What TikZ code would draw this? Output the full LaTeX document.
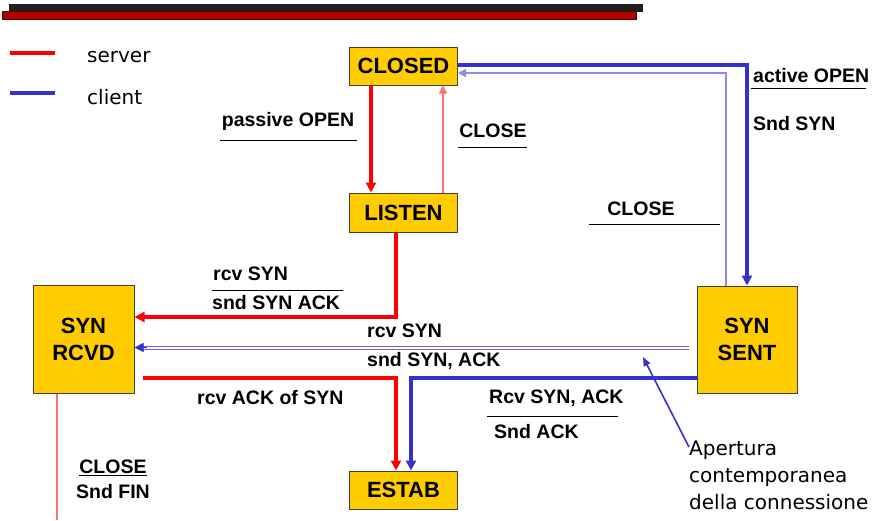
\documentclass[tikz,border=0pt]{standalone}
\usepackage{fontspec}
\setmainfont{Liberation Sans}
\newfontfamily\handfont{DejaVu Sans}
\usepackage{tikz}
\usetikzlibrary{arrows.meta, positioning}
\definecolor{stategold}{HTML}{FFCC00}
\definecolor{srvred}{HTML}{FF0000}
\definecolor{srvlight}{HTML}{FF7070}
\definecolor{cliblue}{HTML}{3333CC}
\definecolor{clilight}{HTML}{8C8CE6}
\definecolor{barred}{HTML}{B00000}

\begin{document}
\begin{tikzpicture}[
			x=1pt, y=-1pt,
			>={Triangle[length=10pt, width=10pt]},
			every node/.style={
					font=\fontsize{19.5}{24}\selectfont\bfseries,
					inner sep=1pt
				},
			state/.style={
					draw=black!75,
					fill=stategold,
					line width=1pt,
					align=center,
					inner sep=0pt,
					font=\fontsize{22}{27}\selectfont\bfseries
				},
			hand/.style={align=left, font=\fontsize{20}{27}\selectfont\handfont},
			srv/.style={->, draw=srvred, line width=4pt},
			srvthin/.style={->, draw=srvlight, line width=1.2pt, >={Triangle[length=8pt, width=8pt]}},
			cli/.style={->, draw=cliblue, line width=4pt},
			clithin/.style={->, draw=clilight, line width=1.6pt, >={Triangle[length=8pt, width=8pt]}},
			twin/.style={draw=cliblue!75, line width=0.9pt},
			rule/.style={line width=1pt}
		]
		\useasboundingbox (0,0) rectangle (879,520);

		% title bars
		\fill[black!88] (9,4) rectangle (643,12);
		\draw[fill=barred, draw=barred!50!black] (2,11) rectangle (636,19);

		% legend
		\draw[srvred, line width=3.5pt] (10,53) -- (55,53);
		\node[hand, anchor=west] (srvkey) at (86,57) {server};
		\draw[cliblue, line width=3.5pt] (10,93) -- (55,93);
		\node[hand, anchor=west] (clikey) at (86,97) {client};

		% states
		\node[state, minimum width=108, minimum height=38] (closed) at (403.5,66) {CLOSED};
		\node[state, minimum width=108, minimum height=39] (listen) at (403.5,212.5) {LISTEN};
		\node[state, minimum width=101, minimum height=108] (synrcvd) at (83.5,339) {SYN\\RCVD};
		\node[state, minimum width=100, minimum height=107] (synsent) at (747,339.5) {SYN\\SENT};
		\node[state, minimum width=108, minimum height=38] (estab) at (403.5,490) {ESTAB};

		% server side
		\draw[srv] ([xshift=22pt]closed.south west) -- ([xshift=22pt]listen.north west);
		\draw[srvthin] ([xshift=-15pt]listen.north east) -- ([xshift=-15pt]closed.south east);
		\draw[srv] ([xshift=-7.5pt]listen.south) |- ([yshift=22pt]synrcvd.east);
		\draw[srv] ([xshift=8pt, yshift=-39pt]synrcvd.east) -| ([xshift=-7.5pt]estab.north);
		\coordinate (finout) at (57,520);
		\draw[draw=srvlight, line width=1.2pt] ([xshift=-26.5pt]synrcvd.south) -- (finout);

		% client side
		\draw[cli] ([yshift=1pt]closed.east) -| (synsent.north);
		\draw[clithin] ([xshift=-21pt]synsent.north) |- ([yshift=-7pt]closed.east);
		\draw[twin] ([xshift=-8pt, yshift=-6.5pt]synsent.west) -- ([xshift=8pt, yshift=-7pt]synrcvd.east);
		\draw[twin] ([xshift=-8pt, yshift=-9.5pt]synsent.west) -- ([xshift=8pt, yshift=-10pt]synrcvd.east);
		\draw[->, draw=cliblue, line width=0.5pt, >={Triangle[length=9pt, width=9pt]}]
		([xshift=12pt, yshift=-8.5pt]synrcvd.east) -- ([yshift=-8.5pt]synrcvd.east);
		\draw[cli] ([yshift=-38.5pt]synsent.west) -| ([xshift=7.5pt]estab.north);

		% labels
		\node (lpopen) at (288,121) {passive OPEN};
		\draw[rule] (220,140) -- (357,140);
		\node (lclose1) at (493,131) {CLOSE};
		\draw[rule] (458,147) -- (527,147);
		\node[anchor=west] (laopen) at (752,76) {active OPEN};
		\draw[rule] (751,88) -- (866,88);
		\node[anchor=west] (lsndsyn) at (752,124) {Snd SYN};
		\node (lclose2) at (641,209) {CLOSE};
		\draw[rule] (589,224) -- (720,224);
		\node[anchor=west] (lrcv1) at (212,274) {rcv SYN};
		\draw[rule] (212,290) -- (343,290);
		\node[anchor=west] (lsnd1) at (211,303) {snd SYN ACK};
		\node[anchor=west] (lrcv2) at (366,331) {rcv SYN};
		\node[anchor=west] (lsnd2) at (366,361) {snd SYN, ACK};
		\node[anchor=west] (lack) at (196,398) {rcv ACK of SYN};
		\node[anchor=west] (lrcv3) at (488,398) {Rcv SYN, ACK};
		\draw[rule] (487,416) -- (618,416);
		\node[anchor=west] (lsnd3) at (493,432) {Snd ACK};
		\node (lclose3) at (113,468) {\underline{CLOSE}};
		\node (lfin) at (113,492) {Snd FIN};

		% note
		\node[hand, anchor=north west] (note) at (688,440) {Apertura\\contemporanea\\della connessione};
		\coordinate (crossing) at (643,357);
		\draw[->, draw=cliblue, line width=1.6pt, >={Triangle[length=9pt, width=7pt]}]
		([xshift=1pt, yshift=-7pt]note.north west) -- (crossing);
	\end{tikzpicture}
\end{document}
